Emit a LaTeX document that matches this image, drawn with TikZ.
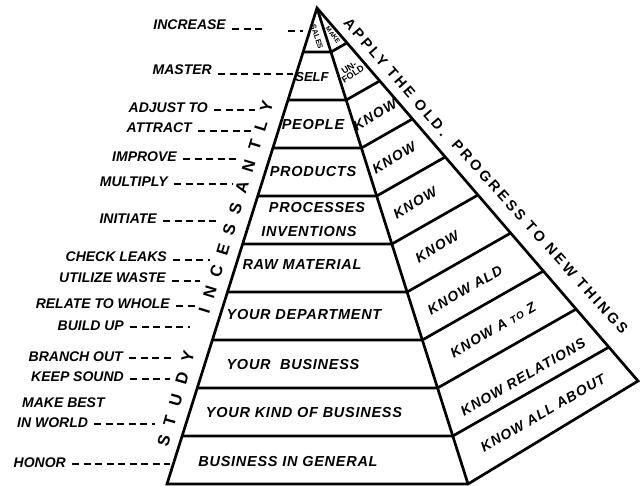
\documentclass[tikz,border=0pt]{standalone}
\usepackage{fontspec}
\newfontfamily\handfont{Liberation Sans}
\newfontfamily\cellfont{Liberation Sans}[LetterSpace=5]
\newfontfamily\facefont{Liberation Sans}[LetterSpace=8]
\newfontfamily\widefont{Liberation Sans}[LetterSpace=64]
\newfontfamily\sidefont{Liberation Sans}[LetterSpace=20]
\usetikzlibrary{calc}

\begin{document}
\begin{tikzpicture}[x=1pt,y=-1pt,
  edge/.style={line width=2.7pt},
  leader/.style={line width=2.3pt, dash pattern=on 7pt off 4.5pt},
  lab/.style={font=\handfont\bfseries\itshape\fontsize{14}{16}\selectfont, inner sep=0pt, anchor=east},
  labw/.style={font=\handfont\bfseries\itshape\fontsize{14}{16}\selectfont, inner sep=0pt, anchor=west},
  cell/.style={font=\cellfont\bfseries\itshape\fontsize{14.5}{16}\selectfont, inner sep=0pt},
  face/.style={font=\facefont\bfseries\itshape\fontsize{14}{16}\selectfont, inner sep=0pt, rotate=30},
  tiny/.style={font=\handfont\bfseries\fontsize{#1}{#1}\selectfont, inner sep=0pt},
  study/.style={font=\widefont\bfseries\fontsize{16.5}{18}\selectfont, inner sep=0pt},
  motto/.style={font=\sidefont\bfseries\fontsize{14.5}{16}\selectfont, inner sep=0pt},
]
\useasboundingbox (0,0) rectangle (640,486);

% outline of the pyramid
\coordinate (apex) at (317,8);
\coordinate (bl) at (167,484);
\coordinate (bm) at (468,484);
\coordinate (br) at (638,381);

% level lines: across the left face, then up the right face
\foreach \i/\y in {1/52,2/100,3/148,4/196,5/244,6/292,7/340,8/388,9/436} {
  \coordinate (ha\i) at (0,\y);
  \coordinate (hb\i) at (640,\y);
  \coordinate (L\i) at (intersection of apex--bl and ha\i--hb\i);
  \coordinate (M\i) at (intersection of apex--bm and ha\i--hb\i);
  \coordinate (dr\i) at ($(M\i)+(100,-57)$);
  \coordinate (R\i) at (intersection of apex--br and M\i--dr\i);
}

\draw[edge] (apex) -- (bl) -- (bm) -- (br) -- cycle;
\draw[edge] (apex) -- (bm);
\foreach \i in {1,...,9} \draw[edge] (L\i) -- (M\i) -- (R\i);

% left face
\node[tiny=7.5, rotate=-72] (sales) at (317,37) {SALES};
\node[cell, font=\handfont\bfseries\itshape\fontsize{13}{14}\selectfont] (self) at (312,77) {SELF};
\node[cell] (people) at (313,125) {PEOPLE};
\node[cell] (products) at (313,172) {PRODUCTS};
\node[cell] (proc) at (317,208) {PROCESSES};
\node[cell] (inv) at (309,232) {INVENTIONS};
\node[cell] (raw) at (302,265) {RAW MATERIAL};
\node[cell] (dept) at (304,315) {YOUR DEPARTMENT};
\node[cell] (bus) at (293,365) {YOUR\ \ BUSINESS};
\node[cell] (kind) at (304,413) {YOUR KIND OF BUSINESS};
\node[cell] (gen) at (288,462) {BUSINESS IN GENERAL};

% right face
\node[tiny=6.5, rotate=-53] (make) at (333,35) {MAKE};
\node[tiny=9, rotate=33, align=center] (unfold) at (351,71) {UN-\\[-2pt]FOLD};
\node[face] (k1) at (375,115) {KNOW};
\node[face] (k2) at (394,158) {KNOW};
\node[face] (k3) at (415,203) {KNOW};
\node[face] (k4) at (437,247) {KNOW};
\node[face] (k5) at (465,290) {KNOW ALD};
\node[face] (k6) at (493,330) {KNOW A {\fontsize{10}{12}\selectfont TO} Z};
\node[face] (k7) at (523,377) {KNOW RELATIONS};
\node[face] (k8) at (543,413) {KNOW ALL ABOUT};

% mottoes along the slopes
\node[study, rotate=74] (studyw) at (176,399) {STUDY};
\node[study, rotate=73] (incw) at (236,207) {INCESSANTLY};
\node[motto, rotate=-49] (apply) at (396,77) {APPLY THE OLD.};
\node[motto, rotate=-48] (prog) at (540,237) {PROGRESS TO NEW THINGS};

% labels on the left with their leaders
\node[lab] (inc) at (226,25) {INCREASE};
\node[lab] (mas) at (212,70) {MASTER};
\node[lab] (adj) at (208,108) {ADJUST TO};
\node[lab] (att) at (192,128) {ATTRACT};
\node[lab] (imp) at (177,157) {IMPROVE};
\node[lab] (mul) at (168,182) {MULTIPLY};
\node[lab] (ini) at (157,219) {INITIATE};
\node[lab] (chk) at (167,257) {CHECK LEAKS};
\node[lab] (uti) at (166,278) {UTILIZE WASTE};
\node[lab] (rel) at (170,304) {RELATE TO WHOLE};
\node[lab] (bld) at (124,326) {BUILD UP};
\node[lab] (bra) at (123,357) {BRANCH OUT};
\node[lab] (kee) at (124,377) {KEEP SOUND};
\node[labw] (mk1) at (22,403) {MAKE BEST};
\node[labw] (mk2) at (17,423) {IN WORLD};
\node[lab] (hon) at (66,463) {HONOR};

\coordinate (inc-a) at (265,29);
\coordinate (inc-b) at (288,31);
\coordinate (inc-c) at (303,31);
\coordinate (mas-e) at (293,74);
\coordinate (adj-e) at (255,110);
\coordinate (att-e) at (255,131);
\coordinate (imp-e) at (240,159);
\coordinate (mul-e) at (232,184);
\coordinate (ini-e) at (217,221);
\coordinate (chk-e) at (210,260);
\coordinate (uti-e) at (200,281);
\coordinate (rel-e) at (195,306);
\coordinate (bld-e) at (190,327);
\coordinate (bra-e) at (175,358);
\coordinate (kee-e) at (170,379);
\coordinate (mk2-e) at (155,424);
\coordinate (hon-e) at (170,464);

\draw[leader] ([xshift=6pt]inc.east |- inc-a) -- (inc-a);
\draw[leader] (inc-b) -- (inc-c);
\foreach \n in {mas,adj,att,imp,mul,ini,chk,uti,rel,bld,bra,kee,mk2,hon}
  \draw[leader] ([xshift=6pt]\n.east |- \n-e) -- (\n-e);
\end{tikzpicture}
\end{document}
